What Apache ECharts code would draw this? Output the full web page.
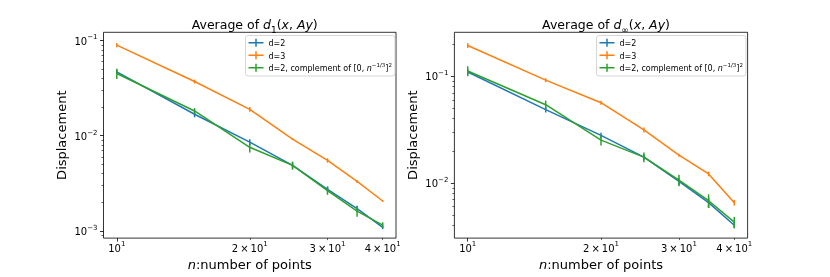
<!DOCTYPE html>
<html><head><meta charset="utf-8">
<script src="https://cdn.jsdelivr.net/npm/echarts@6/dist/echarts.min.js"></script>
<style>html,body{margin:0;padding:0;background:#fff}#c{width:830px;height:277px}</style>
</head><body><div id="c"></div>
<script>
// ---------------- data ----------------
const nPoints = [10, 15, 20, 25, 30, 35, 40];

// Left panel: Average of d_1(x, Ay)
const d1Dim2      = [0.0468, 0.0168, 0.00857, 0.00487, 0.00273, 0.00171, 0.00109];
const d1Dim2Err   = [0.0028, 0.0012, 0.0006, 0.00035, 0.0002, 0.00012, 0.00005];
const d1Dim3      = [0.0896, 0.0371, 0.0189, 0.0092, 0.0055, 0.00331, 0.00206];
const d1Dim3Err   = [0.0045, 0.0018, 0.0011, 0.0002, 0.0003, 0.00012, 0.00005];
const d1Comp      = [0.0450, 0.0182, 0.00755, 0.00487, 0.00265, 0.00161, 0.00115];
const d1CompErr   = [0.0055, 0.0013, 0.0009, 0.00048, 0.00026, 0.0002, 0.00008];

// Right panel: Average of d_inf(x, Ay)
const dInfDim2    = [0.1096, 0.0487, 0.0279, 0.01746, 0.01035, 0.00655, 0.00402];
const dInfDim2Err = [0.006, 0.003, 0.0017, 0.0011, 0.0008, 0.0007, 0.00026];
const dInfDim3    = [0.194, 0.0919, 0.0565, 0.0314, 0.01824, 0.01216, 0.00655];
const dInfDim3Err = [0.01, 0.004, 0.0025, 0.0017, 0.0006, 0.0006, 0.0004];
const dInfComp    = [0.1119, 0.0541, 0.0252, 0.01746, 0.01064, 0.00683, 0.00431];
const dInfCompErr = [0.012, 0.005, 0.0027, 0.0018, 0.0013, 0.001, 0.0005];

const seriesNames = ['d=2', 'd=3', 'd=2, complement of [0, n^-1/3]^2'];

// tick values
const xMajorTicks = [10];
const xMinorTicks = [20, 30, 40];
const xLabelTicks = [10, 20, 30, 40];
const yLeftMajor  = [0.001, 0.01, 0.1];
const yLeftMinor  = [0.0009, 0.002, 0.003, 0.004, 0.005, 0.006, 0.007, 0.008, 0.009,
                     0.02, 0.03, 0.04, 0.05, 0.06, 0.07, 0.08, 0.09];
const yRightMajor = [0.01, 0.1];
const yRightMinor = [0.004, 0.005, 0.006, 0.007, 0.008, 0.009,
                     0.02, 0.03, 0.04, 0.05, 0.06, 0.07, 0.08, 0.09, 0.2];

// ---------------- chart ----------------
const FONT = 'DejaVu Sans';
const colors = ['#1f77b4', '#ff7f0e', '#2ca02c'];

const tickRich = {
  b: {fontSize: 10, fontFamily: FONT, color: '#000', padding: [3, 0, 0, 0], verticalAlign: 'bottom'},
  s: {fontSize: 7, fontFamily: FONT, color: '#000', verticalAlign: 'top'}
};
function expLabel(v) {
  const e = Math.floor(Math.log10(v) + 1e-9);
  const m = Math.round(v / Math.pow(10, e));
  const es = e < 0 ? '\u2212' + (-e) : String(e);
  return (m === 1 ? '{b|10}' : '{b|' + m + '\u2009\u00d7\u200910}') + '{s|' + es + '}';
}

const grids = [
  {left: 103.5, top: 32.3, width: 292.5, height: 209.4},
  {left: 454.4, top: 32.3, width: 293.2, height: 209.4}
];
const yRanges = [[0.000839, 0.1221], [0.00305, 0.2577]];
const xRange = [9.33, 42.87];
const yMajors = [yLeftMajor, yRightMajor];
const yMinors = [yLeftMinor, yRightMinor];

const xAxes = [], yAxes = [];
grids.forEach((g, gi) => {
  xAxes.push({
    type: 'log', logBase: 10, gridIndex: gi, position: 'bottom', min: xRange[0], max: xRange[1],
    axisLine: {show: false}, splitLine: {show: false},
    axisTick: {show: true, length: 3.5, lineStyle: {color: '#000', width: 0.8}, customValues: xMajorTicks},
    axisLabel: {show: true, margin: 3, customValues: xLabelTicks, formatter: expLabel, rich: tickRich},
    name: '{i|n}{t|:number of points}', nameLocation: 'middle', nameGap: 17,
    nameTextStyle: {rich: {
      i: {fontSize: 13, fontFamily: FONT, fontStyle: 'italic', color: '#000'},
      t: {fontSize: 13, fontFamily: FONT, color: '#000'}
    }}
  });
  xAxes.push({
    type: 'log', logBase: 10, gridIndex: gi, position: 'bottom', min: xRange[0], max: xRange[1],
    axisLine: {show: false}, splitLine: {show: false}, axisLabel: {show: false},
    axisTick: {show: true, length: 2, lineStyle: {color: '#000', width: 0.6}, customValues: xMinorTicks}
  });
  yAxes.push({
    type: 'log', logBase: 10, gridIndex: gi, position: 'left', min: yRanges[gi][0], max: yRanges[gi][1],
    axisLine: {show: false}, splitLine: {show: false},
    axisTick: {show: true, length: 3.5, lineStyle: {color: '#000', width: 0.8}, customValues: yMajors[gi]},
    axisLabel: {show: true, margin: 6, customValues: yMajors[gi], formatter: expLabel, rich: tickRich},
    name: 'Displacement', nameLocation: 'middle', nameGap: 34, nameRotate: 90,
    nameTextStyle: {fontSize: 13, fontFamily: FONT, color: '#000'}
  });
  yAxes.push({
    type: 'log', logBase: 10, gridIndex: gi, position: 'left', min: yRanges[gi][0], max: yRanges[gi][1],
    axisLine: {show: false}, splitLine: {show: false}, axisLabel: {show: false},
    axisTick: {show: true, length: 2, lineStyle: {color: '#000', width: 0.6}, customValues: yMinors[gi]}
  });
});

const panelData = [
  [[d1Dim2, d1Dim2Err], [d1Dim3, d1Dim3Err], [d1Comp, d1CompErr]],
  [[dInfDim2, dInfDim2Err], [dInfDim3, dInfDim3Err], [dInfComp, dInfCompErr]]
];

const series = [];
panelData.forEach((panel, gi) => {
  panel.forEach(([vals, errs], si) => {
    const z = 2 + si * 2;
    series.push({
      type: 'line', name: seriesNames[si], xAxisIndex: gi * 2, yAxisIndex: gi * 2,
      data: nPoints.map((n, i) => [n, vals[i]]),
      symbol: 'none', showSymbol: false, color: colors[si],
      lineStyle: {width: 1.5, color: colors[si]}, z: z, animation: false
    });
    series.push({
      type: 'custom', name: 'err' + gi + si, xAxisIndex: gi * 2, yAxisIndex: gi * 2,
      data: nPoints.map((n, i) => [n, vals[i] - errs[i], vals[i] + errs[i]]),
      encode: {x: 0, y: [1, 2]}, z: z + 1, animation: false,
      renderItem: (params, api) => {
        const p1 = api.coord([api.value(0), api.value(1)]);
        const p2 = api.coord([api.value(0), api.value(2)]);
        return {type: 'line', shape: {x1: p1[0], y1: p1[1], x2: p2[0], y2: p2[1]},
                style: {stroke: colors[si], lineWidth: 1.5}};
      }
    });
  });
});

const titleRich = {
  a: {fontSize: 12.5, fontFamily: FONT, fontWeight: 'normal', color: '#000', verticalAlign: 'top', padding: [0, 0, 3, 0]},
  i: {fontSize: 12.5, fontFamily: FONT, fontWeight: 'normal', fontStyle: 'italic', color: '#000', verticalAlign: 'top', padding: [0, 0, 3, 0]},
  u: {fontSize: 9, fontFamily: FONT, fontWeight: 'normal', color: '#000', verticalAlign: 'bottom'}
};
const legendRich = {
  t: {fontSize: 8, fontFamily: FONT, color: '#000', verticalAlign: 'bottom', padding: [2, 0, 0, 0]},
  i: {fontSize: 8, fontFamily: FONT, fontStyle: 'italic', color: '#000', verticalAlign: 'bottom', padding: [2, 0, 0, 0]},
  s: {fontSize: 5.5, fontFamily: FONT, color: '#000', verticalAlign: 'top'}
};
function legendFmt(name) {
  if (name === seriesNames[2]) {
    return '{t|d=2, complement of [0, }{i|n}{s|\u22121/3}{t|]}{s|2}';
  }
  return '{t|' + name + '}';
}
const legendBase = {
  orient: 'vertical', top: 35.5, itemWidth: 15, itemHeight: 8, itemGap: 2,
  icon: 'path://M0,6.5h30v3H0z M13.5,0h3v16h-3z',
  itemStyle: {borderWidth: 0},
  padding: [2, 3, 3, 3], borderColor: '#cccccc', borderWidth: 0.8, borderRadius: 2.5,
  backgroundColor: 'rgba(255,255,255,0.8)',
  formatter: legendFmt, textStyle: {fontSize: 8, fontFamily: FONT, lineHeight: 10.5, rich: legendRich},
  data: seriesNames, selectedMode: false
};

const option = {
  animation: false,
  backgroundColor: '#fff',
  title: [
    {text: '{a|Average of }{i|d}{u|1}{a|(}{i|x}{a|, }{i|Ay}{a|)}', left: 249.7, top: 14, textAlign: 'center',
     textStyle: {fontWeight: 'normal', rich: titleRich}},
    {text: '{a|Average of }{i|d}{u|\u221e}{a|(}{i|x}{a|, }{i|Ay}{a|)}', left: 601, top: 14, textAlign: 'center',
     textStyle: {fontWeight: 'normal', rich: titleRich}}
  ],
  grid: grids.map(g => Object.assign({show: true, borderColor: '#000', borderWidth: 0.8, backgroundColor: 'transparent'}, g)),
  legend: [
    Object.assign({left: 245.5}, legendBase),
    Object.assign({left: 596.5}, legendBase)
  ],
  xAxis: xAxes,
  yAxis: yAxes,
  series: series
};

const chart = echarts.init(document.getElementById('c'), null, {renderer: 'canvas'});
chart.setOption(option);
</script>
</body></html>
